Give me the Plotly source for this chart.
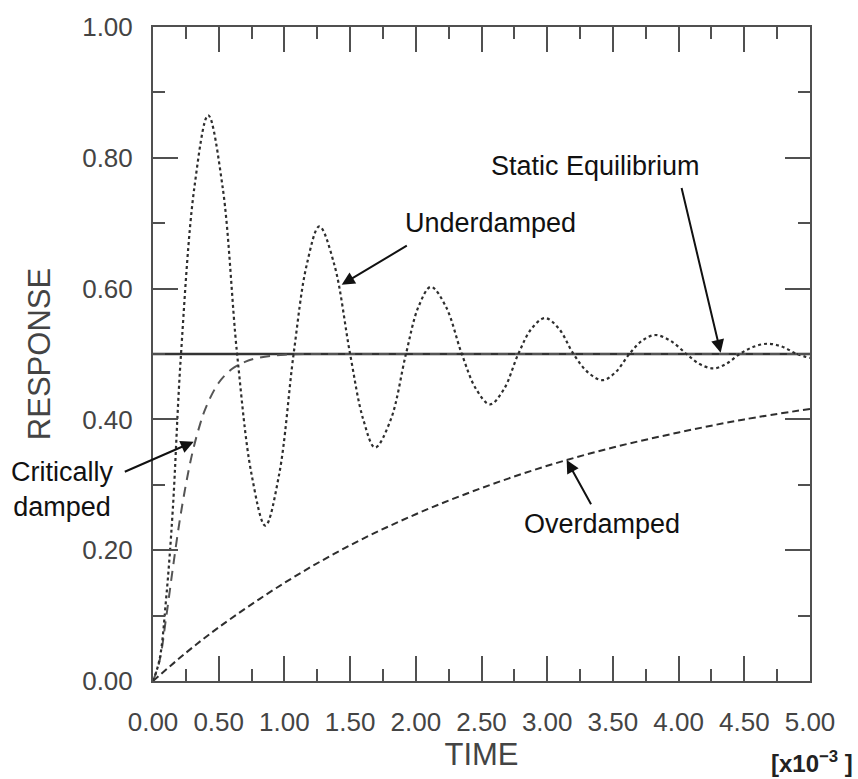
import plotly.graph_objects as go

# ---- data (time in units of 1e-3) ----
t_under = [0, 0.05, 0.10, 0.15, 0.21, 0.315, 0.42, 0.53, 0.64, 0.75, 0.855, 0.96, 1.07, 1.17,
           1.266, 1.38, 1.50, 1.60, 1.69, 1.81, 1.925, 2.02, 2.115, 2.23, 2.35, 2.46, 2.565,
           2.67, 2.78, 2.88, 2.983, 3.09, 3.20, 3.31, 3.42, 3.52, 3.625, 3.72, 3.82, 3.94,
           4.06, 4.16, 4.265, 4.36, 4.465, 4.57, 4.68, 4.79, 4.90, 5.00]
y_under = [0, 0.033, 0.126, 0.26, 0.49, 0.755, 0.865, 0.755, 0.50, 0.316, 0.2375, 0.316, 0.50,
           0.6365, 0.695, 0.6365, 0.50, 0.40, 0.357, 0.40, 0.50, 0.572, 0.6026, 0.572, 0.50,
           0.446, 0.423, 0.446, 0.50, 0.5385, 0.555, 0.5385, 0.50, 0.472, 0.46, 0.472, 0.50,
           0.52, 0.529, 0.52, 0.50, 0.4846, 0.478, 0.4846, 0.50, 0.511, 0.5157, 0.511, 0.50, 0.494]

t_crit = [0, 0.05, 0.10, 0.15, 0.20, 0.25, 0.30, 0.35, 0.40, 0.50, 0.60, 0.70, 0.80, 1.00,
          1.50, 2.00, 3.00, 4.00, 5.00]
y_crit = [0, 0.031, 0.097, 0.171, 0.241, 0.300, 0.349, 0.387, 0.417, 0.456, 0.477, 0.488,
          0.494, 0.499, 0.50, 0.50, 0.50, 0.50, 0.50]

t_over = [0, 0.25, 0.50, 1.00, 1.50, 2.00, 2.50, 3.00, 3.50, 4.00, 4.50, 5.00]
y_over = [0, 0.043, 0.082, 0.150, 0.2075, 0.255, 0.295, 0.329, 0.357, 0.380, 0.400, 0.416]

t_static = [0, 5.0]
y_static = [0.5, 0.5]

x_ticks = [0, 0.5, 1.0, 1.5, 2.0, 2.5, 3.0, 3.5, 4.0, 4.5, 5.0]
y_ticks = [0, 0.2, 0.4, 0.6, 0.8, 1.0]

LINE = "#2e2e2e"
AX = "#505050"
TXT = "#444444"

fig = go.Figure()
fig.add_trace(go.Scatter(x=t_static, y=y_static, mode="lines", name="Static Equilibrium",
                         line=dict(color="#333333", width=2.6)))
fig.add_trace(go.Scatter(x=t_over, y=y_over, mode="lines", name="Overdamped",
                         line=dict(color=LINE, width=2, dash="7px,4px", shape="spline")))
fig.add_trace(go.Scatter(x=t_crit, y=y_crit, mode="lines", name="Critically damped",
                         line=dict(color="#555555", width=2, dash="10px,7px", shape="spline")))
fig.add_trace(go.Scatter(x=t_under, y=y_under, mode="lines", name="Underdamped",
                         line=dict(color=LINE, width=2.2, dash="3px,3px", shape="spline",
                                   smoothing=1.0)))

font_fam = "Liberation Sans, Arial, sans-serif"

fig.update_xaxes(range=[0, 5], tickvals=x_ticks, ticktext=[f"{v:.2f}" for v in x_ticks],
                 ticks="inside", ticklen=25, tickwidth=2, tickcolor=AX,
                 minor=dict(dtick=0.25, tick0=0, ticks="inside", ticklen=12, tickwidth=2, tickcolor=AX),
                 showline=True, linewidth=2, linecolor=AX, mirror="ticks",
                 showgrid=False, zeroline=False,
                 tickfont=dict(family=font_fam, size=26, color=TXT),
                 ticklabelstandoff=17,
                 title=dict(text="TIME", font=dict(family=font_fam, size=31, color=TXT), standoff=0))
fig.update_yaxes(range=[0, 1], tickvals=y_ticks, ticktext=[f"{v:.2f}" for v in y_ticks],
                 ticks="inside", ticklen=25, tickwidth=2, tickcolor=AX,
                 minor=dict(dtick=0.1, tick0=0, ticks="inside", ticklen=12, tickwidth=2, tickcolor=AX),
                 showline=True, linewidth=2, linecolor=AX, mirror="ticks",
                 showgrid=False, zeroline=False,
                 tickfont=dict(family=font_fam, size=26, color=TXT),
                 ticklabelstandoff=13,
                 title=dict(text="RESPONSE", font=dict(family=font_fam, size=31, color=TXT), standoff=22))

afont = dict(family=font_fam, size=27, color="#111111")
ann = []
# text labels
ann.append(dict(x=3.365, y=0.787, xref="x", yref="y", text="Static Equilibrium",
                showarrow=False, font=afont))
ann.append(dict(x=2.565, y=0.70, xref="x", yref="y", text="Underdamped",
                showarrow=False, font=afont))
ann.append(dict(x=-0.137, y=0.2927, xref="paper", yref="paper", text="Critically<br>damped",
                showarrow=False, font=afont, align="center", xanchor="center", yanchor="middle"))
ann.append(dict(x=3.42, y=0.24, xref="x", yref="y", text="Overdamped",
                showarrow=False, font=afont))
# arrows (tail -> tip)
arrows = [((4.02, 0.756), (4.32, 0.502)),
          ((1.943, 0.667), (1.436, 0.606)),
          ((-0.226, 0.319), (0.31, 0.366)),
          ((3.34, 0.268), (3.148, 0.338))]
for (tx, ty), (hx, hy) in arrows:
    ann.append(dict(x=hx, y=hy, ax=tx, ay=ty, xref="x", yref="y", axref="x", ayref="y",
                    text="", showarrow=True, arrowhead=2, arrowsize=1.3, arrowwidth=2,
                    arrowcolor="#111111", standoff=0, startstandoff=0))
ann.append(dict(x=1.0, y=-0.1235, xref="paper", yref="paper", xanchor="right", yanchor="middle",
                xshift=45, text="<b>[x10<sup>−3</sup> ]</b>", showarrow=False,
                font=dict(family=font_fam, size=24, color="#222222")))

fig.update_layout(width=858, height=779, margin=dict(l=153, r=48, t=25, b=98),
                  paper_bgcolor="white", plot_bgcolor="white", showlegend=False,
                  annotations=ann)

# remove the default page margin so the 858x779 figure fills the window exactly
fig.write_html("out.html", config={"displayModeBar": False},
               post_script="document.body.style.margin='0';document.body.style.overflow='hidden';")
